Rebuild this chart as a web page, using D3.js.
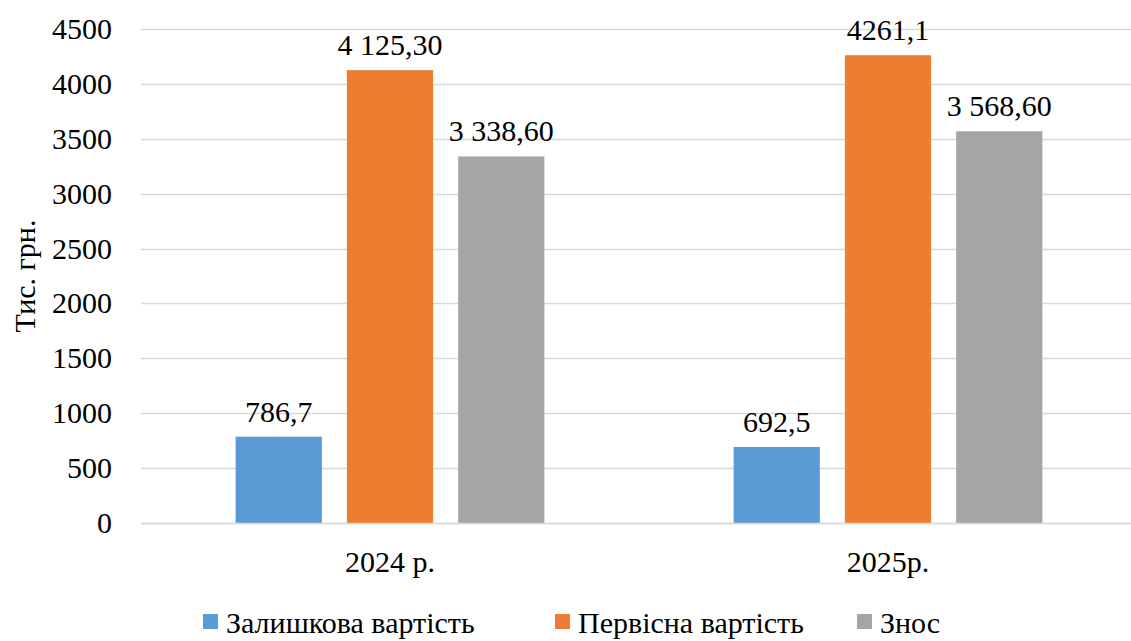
<!DOCTYPE html>
<html><head><meta charset="utf-8">
<script src="https://cdn.jsdelivr.net/npm/d3@7"></script>
</head><body style="margin:0"><svg id="c" width="1131" height="641"></svg>
<script>
const categories = ["2024 р.", "2025р."];
const seriesNames = ["Залишкова вартість", "Первісна вартість", "Знос"];
const residual = [786.7, 692.5];
const initial = [4125.3, 4261.1];
const depreciation = [3338.6, 3568.6];
const residualLabels = ["786,7", "692,5"];
const initialLabels = ["4 125,30", "4261,1"];
const depreciationLabels = ["3 338,60", "3 568,60"];
const yTicks = [0, 500, 1000, 1500, 2000, 2500, 3000, 3500, 4000, 4500];
const colors = ["#5B9BD5", "#ED7D31", "#A5A5A5"];

const series = [
  {name: seriesNames[0], values: residual, labels: residualLabels},
  {name: seriesNames[1], values: initial, labels: initialLabels},
  {name: seriesNames[2], values: depreciation, labels: depreciationLabels}
];

const svg = d3.select("#c");
const pL = 141, pR = 1137, pT = 29, pB = 523;
const y = d3.scaleLinear().domain([0, 4500]).range([pB, pT]);
const x0 = d3.scaleBand().domain(categories).range([pL, pR]);
const x1 = d3.scaleBand().domain(d3.range(3)).range([x0.bandwidth()*0.19, x0.bandwidth()*0.81]).paddingInner(0.225);

function txt(sel) { return sel.style("font-family", `"Liberation Serif"`).style("font-size", "30px"); }

svg.append("g").selectAll("line").data(yTicks).join("line")
  .attr("x1", pL).attr("x2", 1131)
  .attr("y1", d => Math.round(y(d)) + 0.5).attr("y2", d => Math.round(y(d)) + 0.5)
  .attr("stroke", "#D9D9D9").attr("stroke-width", 1.5);

txt(svg.append("g").selectAll("text").data(yTicks).join("text"))
  .attr("x", 112).attr("y", d => y(d) + 10)
  .attr("text-anchor", "end").text(d => d);

txt(svg.append("text")).attr("transform", "translate(35,276) rotate(-90)")
  .attr("text-anchor", "middle").text("Тис. грн.");

series.forEach((s, si) => {
  categories.forEach((cat, ci) => {
    svg.append("rect").attr("x", x0(cat) + x1(si)).attr("width", x1.bandwidth())
      .attr("y", y(s.values[ci])).attr("height", y(0) - y(s.values[ci]))
      .attr("fill", colors[si]);
    txt(svg.append("text")).attr("x", x0(cat) + x1(si) + x1.bandwidth()/2).attr("y", y(s.values[ci]) - 15)
      .attr("text-anchor", "middle").text(s.labels[ci]);
  });
});

svg.append("line").attr("x1", pL).attr("x2", 1131).attr("y1", pB + 0.5).attr("y2", pB + 0.5)
  .attr("stroke", "#D9D9D9").attr("stroke-width", 1.5);

txt(svg.append("g").selectAll("text").data(categories).join("text"))
  .attr("x", d => x0(d) + x0.bandwidth()/2).attr("y", 572)
  .attr("text-anchor", "middle").text(d => d);

const legendX = [203, 555, 857];
seriesNames.forEach((name, i) => {
  svg.append("rect").attr("x", legendX[i]).attr("y", 614).attr("width", 15).attr("height", 15).attr("fill", colors[i]);
  txt(svg.append("text")).attr("x", legendX[i] + 23).attr("y", 633).text(name);
});
</script></body></html>
